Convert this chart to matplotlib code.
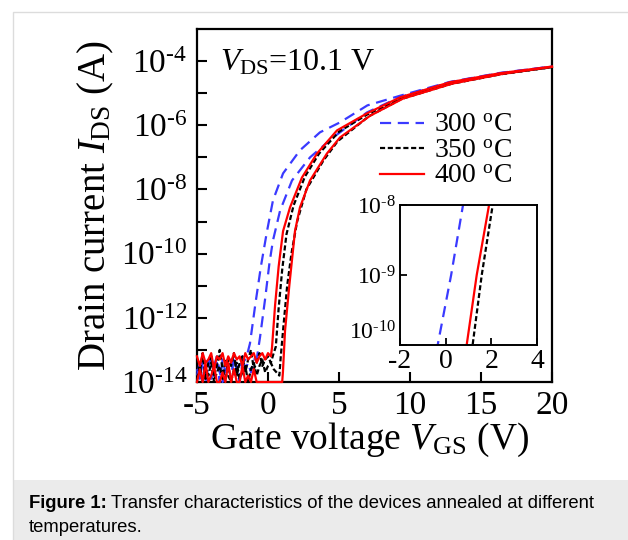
import numpy as np
import matplotlib
matplotlib.use("Agg")
import matplotlib.pyplot as plt
from matplotlib.patches import Rectangle
from matplotlib.lines import Line2D

plt.rcParams['font.family'] = ['Liberation Serif', 'DejaVu Serif']
plt.rcParams['mathtext.fontset'] = 'custom'
plt.rcParams['mathtext.rm'] = 'Liberation Serif'
plt.rcParams['mathtext.it'] = 'Liberation Serif:italic'
plt.rcParams['mathtext.bf'] = 'Liberation Serif:bold'
plt.rcParams['axes.unicode_minus'] = False

# ---------------- data ----------------
# gate-voltage sampling points of the off-state (noise floor) region
noise_vgs = [-5.0, -4.8, -4.6, -4.4, -4.2, -4.0, -3.8, -3.6, -3.4, -3.2,
             -3.0, -2.8, -2.6, -2.4, -2.2, -2.0, -1.8, -1.6, -1.4, -1.2,
             -1.0, -0.8, -0.6, -0.4, -0.2, 0.0, 0.2, 0.4]

# log10(I_DS) in the noise floor, one list per sweep
blue_a_noise = [-13.6, -13.9, -13.3, -14.0, -13.5, -13.2, -13.8, -13.4, -14.0, -13.3,
                -13.7, -13.5, -13.9, -13.2, -13.6, -14.0, -13.4, -13.3]
blue_b_noise = [-13.8, -13.4, -14.0, -13.6, -13.3, -13.9, -13.5, -13.2, -13.7, -14.0,
                -13.4, -13.6, -13.3, -13.8, -13.5, -13.9, -13.2, -13.6, -13.4, -13.7,
                -13.3]
black_a_noise = [-13.3, -13.7, -13.1, -13.9, -13.4, -13.2, -13.8, -13.5, -13.0, -13.6,
                 -14.0, -13.3, -13.5, -13.1, -13.8, -13.4, -13.2, -13.7, -13.3, -13.0,
                 -13.6, -13.4, -13.1, -13.5, -13.3, -13.2, -13.4, -13.1]
black_b_noise = [-13.9, -13.5, -14.0, -13.6, -13.8, -13.4, -14.0, -13.7, -13.5, -13.9,
                 -13.3, -13.8, -14.0, -13.6, -13.4, -13.9, -13.7, -13.5, -14.0, -13.6,
                 -13.4, -13.8, -13.5, -13.3, -13.7, -13.5, -13.4, -13.6]
red_a_noise = [-13.2, -13.5, -13.1, -13.4, -13.3, -13.1, -13.6, -13.2, -13.3, -13.1,
               -13.5, -13.2, -13.4, -13.1, -13.3, -13.2, -13.5, -13.1, -13.3, -13.2,
               -13.1, -13.4, -13.2, -13.1, -13.3, -13.1, -13.2]
red_b_noise = [-14.0, -13.6, -14.0, -13.4, -14.0, -13.8, -13.5, -14.0, -14.0, -13.7,
               -14.0, -13.4, -14.0, -13.6, -14.0, -14.0, -13.5, -14.0, -13.8, -14.0,
               -13.6, -14.0, -14.0, -14.0, -14.0, -14.0, -14.0, -14.0]

# turn-on and on-state part of each sweep: V_GS and log10(I_DS)
blue_a_vgs = [-1.5, -1.27, -0.9, -0.5, -0.07, 0.35, 1.06, 2.25, 3.66, 5.07, 7.0, 9.3, 12.8, 16.3, 20.0]
blue_a_logi = [-13.2, -12.8, -11.6, -10.4, -9.3, -8.34, -7.5, -6.78, -6.22, -5.91, -5.38, -5.08, -4.65, -4.37, -4.17]
blue_b_vgs = [-0.8, -0.56, -0.2, 0.1, 0.35, 0.85, 1.69, 2.96, 4.58, 6.97, 9.3, 12.8, 16.3, 20.0]
blue_b_logi = [-13.3, -12.6, -11.4, -10.3, -9.59, -8.66, -7.72, -7.0, -6.38, -5.6, -5.12, -4.66, -4.38, -4.17]
black_a_vgs = [0.55, 0.75, 1.0, 1.3, 1.8, 2.6, 3.6, 5.0, 7.0, 9.4, 12.9, 16.4, 20.0]
black_a_logi = [-12.9, -11.7, -10.5, -9.4, -8.5, -7.6, -6.88, -6.2, -5.66, -5.16, -4.69, -4.4, -4.19]
black_b_vgs = [0.8, 0.9, 1.1, 1.35, 1.65, 2.05, 2.7, 3.9, 4.9, 7.1, 9.4, 12.9, 16.4, 20.0]
black_b_logi = [-13.8, -13.2, -12.2, -11.0, -10.0, -9.0, -8.0, -7.1, -6.5, -5.72, -5.18, -4.71, -4.41, -4.19]
red_a_vgs = [0.28, 0.5, 0.75, 1.06, 1.55, 2.39, 3.45, 4.86, 6.97, 9.3, 12.8, 16.3, 20.0]
red_a_logi = [-12.94, -11.6, -10.4, -9.3, -8.56, -7.63, -6.88, -6.16, -5.63, -5.13, -4.66, -4.38, -4.17]
red_b_vgs = [1.0, 1.0, 1.05, 1.2, 1.5, 1.9, 2.25, 2.96, 4.15, 5.07, 7.2, 9.5, 13.0, 16.5, 20.0]
red_b_logi = [-14.0, -14.0, -13.7, -12.4, -11.0, -9.3, -8.56, -7.72, -6.88, -6.38, -5.7, -5.17, -4.7, -4.4, -4.18]

# inset (forward sweeps)
inset_blue_vgs = [-0.41, -0.35, 0.24, 0.76, 0.81]
inset_blue_logi = [-10.1, -10.0, -9.0, -8.0, -7.9]
inset_red_vgs = [0.88, 0.92, 1.36, 1.9, 1.95]
inset_red_logi = [-10.1, -10.0, -9.0, -8.0, -7.9]
inset_black_vgs = [1.14, 1.18, 1.58, 2.06, 2.1]
inset_black_logi = [-10.1, -10.0, -9.0, -8.0, -7.9]

labels = ['300 $^{\\mathrm{o}}$C', '350 $^{\\mathrm{o}}$C', '400 $^{\\mathrm{o}}$C']
colors = ['#3a3aff', '#000000', '#ff0000']
xticks = [-5, 0, 5, 10, 15, 20]
ytick_exp = [-14, -12, -10, -8, -6, -4]

# ---------------- figure ----------------
W, H = 628, 540
fig = plt.figure(figsize=(W / 100, H / 100), dpi=100)

def fx(px):
    return px / W

def fy(py):
    return 1 - py / H

# outer frame + caption band
fig.patches.append(Rectangle((fx(13), fy(540) - 0.01), 1, fy(480) - fy(540) + 0.01,
                             transform=fig.transFigure, facecolor='#ebebeb',
                             edgecolor='none', zorder=0))
fig.patches.append(Rectangle((fx(13), -0.05), 1, fy(12) + 0.05,
                             transform=fig.transFigure, facecolor='none',
                             edgecolor='#dcdcdc', lw=1.0, zorder=1))

ax = fig.add_axes([fx(197), fy(382), fx(552) - fx(197), fy(29) - fy(382)])
ax.set_yscale('log')

dash_blue = (5, 3)
dash_black = (2.3, 1.2)
LW = 1.6

def full_curve(noise, vgs, logi):
    v = noise_vgs[:len(noise)] + vgs
    li = noise + logi
    return np.array(v), 10.0 ** np.array(li)

curves = [
    (blue_a_noise, blue_a_vgs, blue_a_logi, 0),
    (blue_b_noise, blue_b_vgs, blue_b_logi, 0),
    (black_a_noise, black_a_vgs, black_a_logi, 1),
    (black_b_noise, black_b_vgs, black_b_logi, 1),
    (red_a_noise, red_a_vgs, red_a_logi, 2),
    (red_b_noise, red_b_vgs, red_b_logi, 2),
]
for noise, vgs, logi, k in curves:
    v, i = full_curve(noise, vgs, logi)
    if k == 0:
        ax.plot(v, i, color=colors[k], lw=LW, dashes=dash_blue, clip_on=False, zorder=3)
    elif k == 1:
        ax.plot(v, i, color=colors[k], lw=LW, dashes=dash_black, clip_on=False, zorder=3)
    else:
        ax.plot(v, i, color=colors[k], lw=LW, clip_on=False, zorder=4)

ax.set_xlim(-5, 20)
ax.set_ylim(1e-14, 1e-3)
ax.set_xticks(xticks)
ax.set_xticklabels([str(t) for t in xticks])
ax.set_yticks([10.0 ** e for e in ytick_exp])
ax.set_yticklabels(['$\\mathregular{10^{\\text{-}%d}}$' % (-e) for e in ytick_exp])
ax.set_yticks([10.0 ** e for e in [-13, -11, -9, -7, -5]], minor=True)
ax.xaxis.set_minor_locator(matplotlib.ticker.NullLocator())
ax.tick_params(axis='both', which='both', direction='in', width=1.5, length=7,
               top=False, right=False)
ax.tick_params(axis='y', which='both', labelsize=24, pad=7)
ax.tick_params(axis='x', which='both', labelsize=24, pad=6)
ax.yaxis.set_minor_formatter(matplotlib.ticker.NullFormatter())
for s in ax.spines.values():
    s.set_linewidth(1.6)

ax.set_xlabel('Gate voltage $\\mathit{V}_{\\mathrm{GS}}$ (V)', fontsize=27)
ax.xaxis.set_label_coords(0.485, -0.11)
ax.set_ylabel('Drain current $\\mathit{I}_{\\mathrm{DS}}$ (A)', fontsize=28)
ax.yaxis.set_label_coords(-0.228, 0.5)

ax.text(0.065, 0.945, '$\\mathit{V}_{\\mathrm{DS}}$=10.1 V', transform=ax.transAxes,
        fontsize=23, ha='left', va='top')

handles = [Line2D([], [], color=colors[0], lw=LW, dashes=dash_blue),
           Line2D([], [], color=colors[1], lw=LW, dashes=dash_black),
           Line2D([], [], color=colors[2], lw=LW)]
leg = ax.legend(handles, labels, loc='upper left', bbox_to_anchor=(0.515, 0.762),
                frameon=False, fontsize=20, handlelength=1.6, handletextpad=0.35,
                labelspacing=0.0, borderpad=0, borderaxespad=0)

# inset
axi = fig.add_axes([fx(400), fy(345), fx(537) - fx(400), fy(205) - fy(345)])
axi.set_yscale('log')
axi.plot(inset_blue_vgs, 10.0 ** np.array(inset_blue_logi), color=colors[0], lw=LW, dashes=dash_blue)
axi.plot(inset_black_vgs, 10.0 ** np.array(inset_black_logi), color=colors[1], lw=LW, dashes=dash_black)
axi.plot(inset_red_vgs, 10.0 ** np.array(inset_red_logi), color=colors[2], lw=LW)
axi.set_xlim(-2, 4)
axi.set_ylim(1e-10, 1e-8)
axi.set_xticks([-2, 0, 2, 4])
axi.set_xticklabels(['-2', '0', '2', '4'])
axi.set_yticks([1e-10, 1e-9, 1e-8])
axi.set_yticklabels(['$\\mathregular{10^{\\text{-}10}}$', '$\\mathregular{10^{\\text{-}9}}$',
                     '$\\mathregular{10^{\\text{-}8}}$'])
axi.yaxis.set_minor_locator(matplotlib.ticker.NullLocator())
axi.yaxis.set_minor_formatter(matplotlib.ticker.NullFormatter())
axi.xaxis.set_minor_locator(matplotlib.ticker.NullLocator())
axi.tick_params(axis='both', direction='in', width=1.3, length=5, top=False, right=False)
axi.tick_params(axis='y', labelsize=17, pad=3)
axi.tick_params(axis='x', labelsize=20, pad=3)
for s in axi.spines.values():
    s.set_linewidth(1.4)
# lift the lowest inset y label slightly so it sits above the x labels
axi.get_yticklabels()[0].set_verticalalignment('bottom')

# caption
renderer = fig.canvas.get_renderer()
CAP = 13.3
t1 = fig.text(fx(29), fy(503), 'Figure 1:', family='Liberation Sans', weight='bold',
              fontsize=CAP, va='center', ha='left')
bb = t1.get_window_extent(renderer)
fig.text(bb.x1 / W + fx(4), fy(503), 'Transfer characteristics of the devices annealed at different',
         family='Liberation Sans', fontsize=CAP, va='center', ha='left')
fig.text(fx(29), fy(527), 'temperatures.', family='Liberation Sans', fontsize=CAP,
         va='center', ha='left')

fig.savefig('out.png', dpi=100)
